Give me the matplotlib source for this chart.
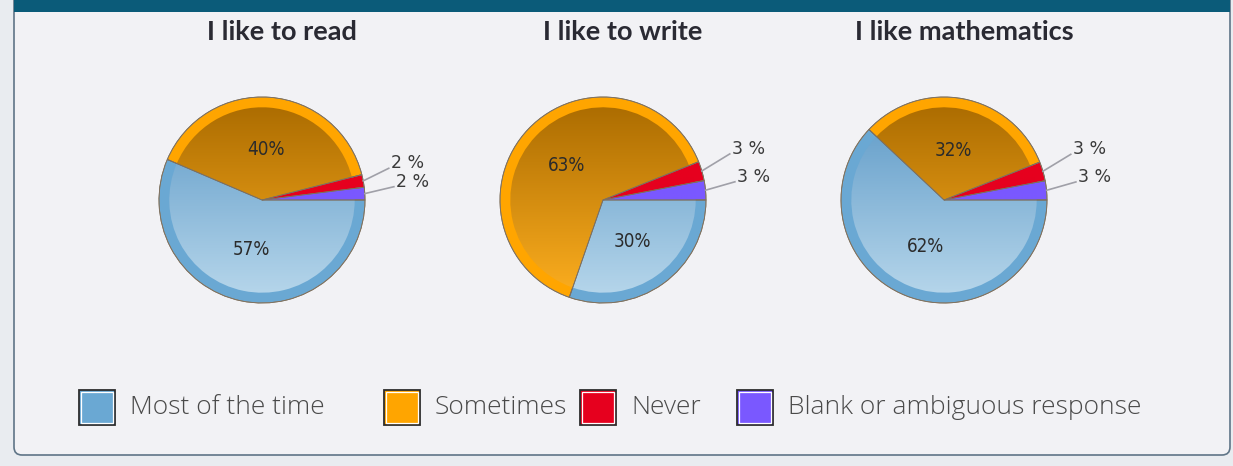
import numpy as np
import matplotlib
matplotlib.use("Agg")
import matplotlib.pyplot as plt
from matplotlib.patches import FancyBboxPatch, Rectangle

# Data
titles = ["I like to read", "I like to write", "I like mathematics"]
categories = ["Blank or ambiguous response", "Never", "Sometimes", "Most of the time"]
read_vals = [2, 2, 40, 57]
write_vals = [3, 3, 63, 30]
math_vals = [3, 3, 32, 62]
legend_order = ["Most of the time", "Sometimes", "Never", "Blank or ambiguous response"]

colors = {
    "Most of the time": "#6aa8d3",
    "Sometimes": "#ffa500",
    "Never": "#e6001e",
    "Blank or ambiguous response": "#7a58ff",
}
# inner gradient (top, bottom) for the slices
grads = {
    "Most of the time": ("#5b98c6", "#b9d8ec"),
    "Sometimes": ("#a96a00", "#ffb020"),
    "Never": ("#e6001e", "#e6001e"),
    "Blank or ambiguous response": ("#7a58ff", "#7a58ff"),
}

W, H = 1233, 466
fig = plt.figure(figsize=(W / 100, H / 100), dpi=100)
fig.patch.set_facecolor("#e9ecf0")
ax = fig.add_axes([0, 0, 1, 1])

# panel
ax.add_patch(FancyBboxPatch((14, 466 - 455), 1216, 470, boxstyle="round,pad=0,rounding_size=8",
                            facecolor="#f2f2f5", edgecolor="#5f7587", lw=1.2, zorder=0))
ax.add_patch(Rectangle((14, 466 - 12), 1216, 14, facecolor="#0b5b79", edgecolor="none", zorder=1))

centers = [(262, 466 - 200), (603, 466 - 200), (944, 466 - 200)]
R = 103


def hex_rgb(h):
    return np.array(matplotlib.colors.to_rgb(h))


for title, vals, (cx, cy) in zip(titles, [read_vals, write_vals, math_vals], centers):
    cols = [colors[c] for c in categories]
    # outer rim
    wedges, _ = ax.pie(vals, colors=cols, startangle=0, counterclock=True, center=(cx, cy),
                       radius=R, wedgeprops=dict(edgecolor="#8a7a60", lw=0.6), frame=True)
    # inner gradient
    inner, _ = ax.pie(vals, colors=["none"] * 4, startangle=0, counterclock=True, center=(cx, cy),
                      radius=R * 0.9, wedgeprops=dict(edgecolor="none", lw=0), frame=True)
    for w, cat in zip(inner, categories):
        top, bot = hex_rgb(grads[cat][0]), hex_rgb(grads[cat][1])
        t = np.linspace(0, 1, 100)[:, None]
        img = (top * (1 - t) + bot * t)[:, None, :]
        im = ax.imshow(img, extent=(cx - R, cx + R, cy - R, cy + R), origin="upper",
                       aspect="auto", zorder=2)
        im.set_clip_path(w)
    # separators redrawn over gradient
    ax.pie(vals, colors=["none"] * 4, startangle=0, counterclock=True, center=(cx, cy),
           radius=R, wedgeprops=dict(edgecolor="#7d7060", lw=0.6, zorder=3), frame=True)

    # labels
    small = 0
    for w, v in zip(wedges, vals):
        mid = np.deg2rad((w.theta1 + w.theta2) / 2)
        if v >= 10:
            ax.text(cx + 0.49 * R * np.cos(mid), cy + 0.49 * R * np.sin(mid), f"{v}%",
                    ha="center", va="center", fontsize=13.5, color="#2b2b2b",
                    family="DejaVu Sans", fontstretch="condensed", zorder=5)
        else:
            ex, ey = cx + R * np.cos(mid), cy + R * np.sin(mid)
            lx = cx + (1.25 + 0.05 * (1 - small)) * R
            ly = cy + 1.45 * R * np.sin(mid) + 9
            ax.plot([ex, lx - 2], [ey, ly - 5], color="#a0a0a8", lw=1.2, zorder=4)
            ax.text(lx, ly, f"{v} %", ha="left", va="center", fontsize=12.5,
                    color="#3a3a3a", zorder=5)
            small += 1

    ax.text(cx + 20, 466 - 32, title, ha="center", va="center", fontsize=19.5,
            fontweight="bold", family="Lato", color="#2a2a33")

ax.set_xlim(0, W)
ax.set_ylim(0, H)
ax.set_aspect("equal")
ax.axis("off")

# legend
box_x = [79, 384, 580, 737]
for name, bx in zip(legend_order, box_x):
    ax.add_patch(Rectangle((bx, 466 - 425), 36, 35, facecolor=colors[name],
                           edgecolor="#2d2d2d", lw=1.3, zorder=5))
    ax.add_patch(Rectangle((bx + 1.8, 466 - 423), 32.4, 31.5, facecolor="none",
                           edgecolor="white", lw=0.9, zorder=6))
    ax.text(bx + 51, 466 - 408, name, ha="left", va="center", fontsize=19,
            family="Open Sans", fontweight="light", color="#4a4a4a", zorder=6)

fig.savefig("out.png", dpi=100, facecolor=fig.get_facecolor())
